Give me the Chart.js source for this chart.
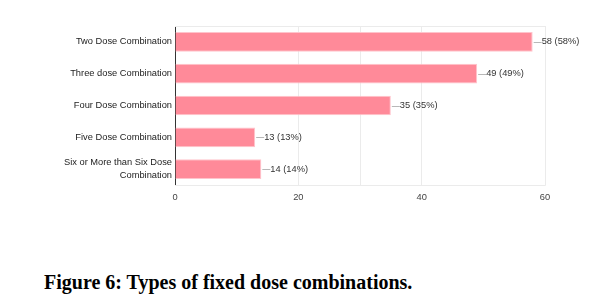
<!DOCTYPE html>
<html>
<head>
<meta charset="utf-8">
<script src="https://cdn.jsdelivr.net/npm/chart.js@4"></script>
<style>
  body { margin: 0; background: #fff; width: 605px; height: 302px; overflow: hidden; position: relative; }
  #wrap { position: absolute; left: 0; top: 0; width: 605px; height: 212px; }
  #caption {
    position: absolute; left: 44px; top: 271px;
    font-family: "Liberation Serif", serif; font-weight: bold; font-size: 20px;
    color: #000; white-space: nowrap;
  }
</style>
</head>
<body>
<div id="wrap"><canvas id="myChart"></canvas></div>
<div id="caption">Figure 6: Types of fixed dose combinations.</div>
<script>
const categories = [
    'Two Dose Combination',
    'Three dose Combination',
    'Four Dose Combination',
    'Five Dose Combination',
    ['Six or More than Six Dose', 'Combination']
];
const counts = [58, 49, 35, 13, 14];
const percents = [58, 49, 35, 13, 14];
const tickLabels = [0, 20, 40, 60];
const gridValues = [20, 30, 40, 60];

const fontFamily = '"Liberation Sans", Arial, sans-serif';
const fontSize = 9.3;

// leader line + "n (p%)" next to each bar
const valueLabels = {
    id: 'valueLabels',
    afterDatasetsDraw(chart) {
        const ctx = chart.ctx;
        const meta = chart.getDatasetMeta(0);
        ctx.save();
        ctx.font = fontSize + 'px ' + fontFamily;
        ctx.textBaseline = 'middle';
        meta.data.forEach(function(bar, i) {
            ctx.strokeStyle = '#b8b8b8';
            ctx.lineWidth = 1;
            ctx.beginPath();
            ctx.moveTo(bar.x + 1, Math.round(bar.y) + 0.5);
            ctx.lineTo(bar.x + 9, Math.round(bar.y) + 0.5);
            ctx.stroke();
            ctx.fillStyle = '#333';
            ctx.fillText(counts[i] + ' (' + percents[i] + '%)', bar.x + 9, bar.y);
        });
        ctx.restore();
    }
};

// light frame on top, right and bottom of the plot area
const frame = {
    id: 'frame',
    beforeDatasetsDraw(chart) {
        const a = chart.chartArea;
        const ctx = chart.ctx;
        ctx.save();
        ctx.strokeStyle = '#ebebeb';
        ctx.lineWidth = 1;
        ctx.beginPath();
        ctx.moveTo(a.left, Math.round(a.top) + 0.5);
        ctx.lineTo(Math.round(a.right) + 0.5, Math.round(a.top) + 0.5);
        ctx.lineTo(Math.round(a.right) + 0.5, Math.round(a.bottom) + 0.5);
        ctx.lineTo(a.left, Math.round(a.bottom) + 0.5);
        ctx.stroke();
        ctx.restore();
    }
};

const ctx = document.getElementById('myChart').getContext('2d');
const chart = new Chart(ctx, {
    type: 'bar',
    data: {
        labels: categories,
        datasets: [{
            data: counts,
            backgroundColor: '#ff8a99',
            borderColor: '#ffc4cc',
            borderWidth: 1,
            borderSkipped: 'left',
            categoryPercentage: 1,
            barPercentage: 0.62
        }]
    },
    options: {
        indexAxis: 'y',
        responsive: true,
        maintainAspectRatio: false,
        animation: false,
        layout: { padding: { left: 0, right: 60, top: 26, bottom: 0 } },
        plugins: { legend: { display: false }, tooltip: { enabled: false } },
        scales: {
            x: {
                min: 0,
                max: 60,
                afterFit: function(scale) { scale.height = 27; },
                ticks: {
                    stepSize: 10,
                    autoSkip: false,
                    maxRotation: 0,
                    padding: 7,
                    color: '#444',
                    font: { family: fontFamily, size: fontSize },
                    callback: function(v) { return tickLabels.includes(v) ? v : ''; }
                },
                grid: {
                    drawTicks: false,
                    color: function(c) {
                        return gridValues.includes(c.tick && c.tick.value) ? '#ebebeb' : 'rgba(0,0,0,0)';
                    }
                },
                border: { display: false }
            },
            y: {
                afterFit: function(scale) { scale.width = 175; },
                ticks: {
                    autoSkip: false,
                    padding: 3,
                    color: '#222',
                    font: { family: fontFamily, size: fontSize, lineHeight: 1.4 }
                },
                grid: { display: false, drawTicks: false },
                border: { display: true, color: '#333', width: 1 }
            }
        }
    },
    plugins: [frame, valueLabels]
});
</script>
</body>
</html>
